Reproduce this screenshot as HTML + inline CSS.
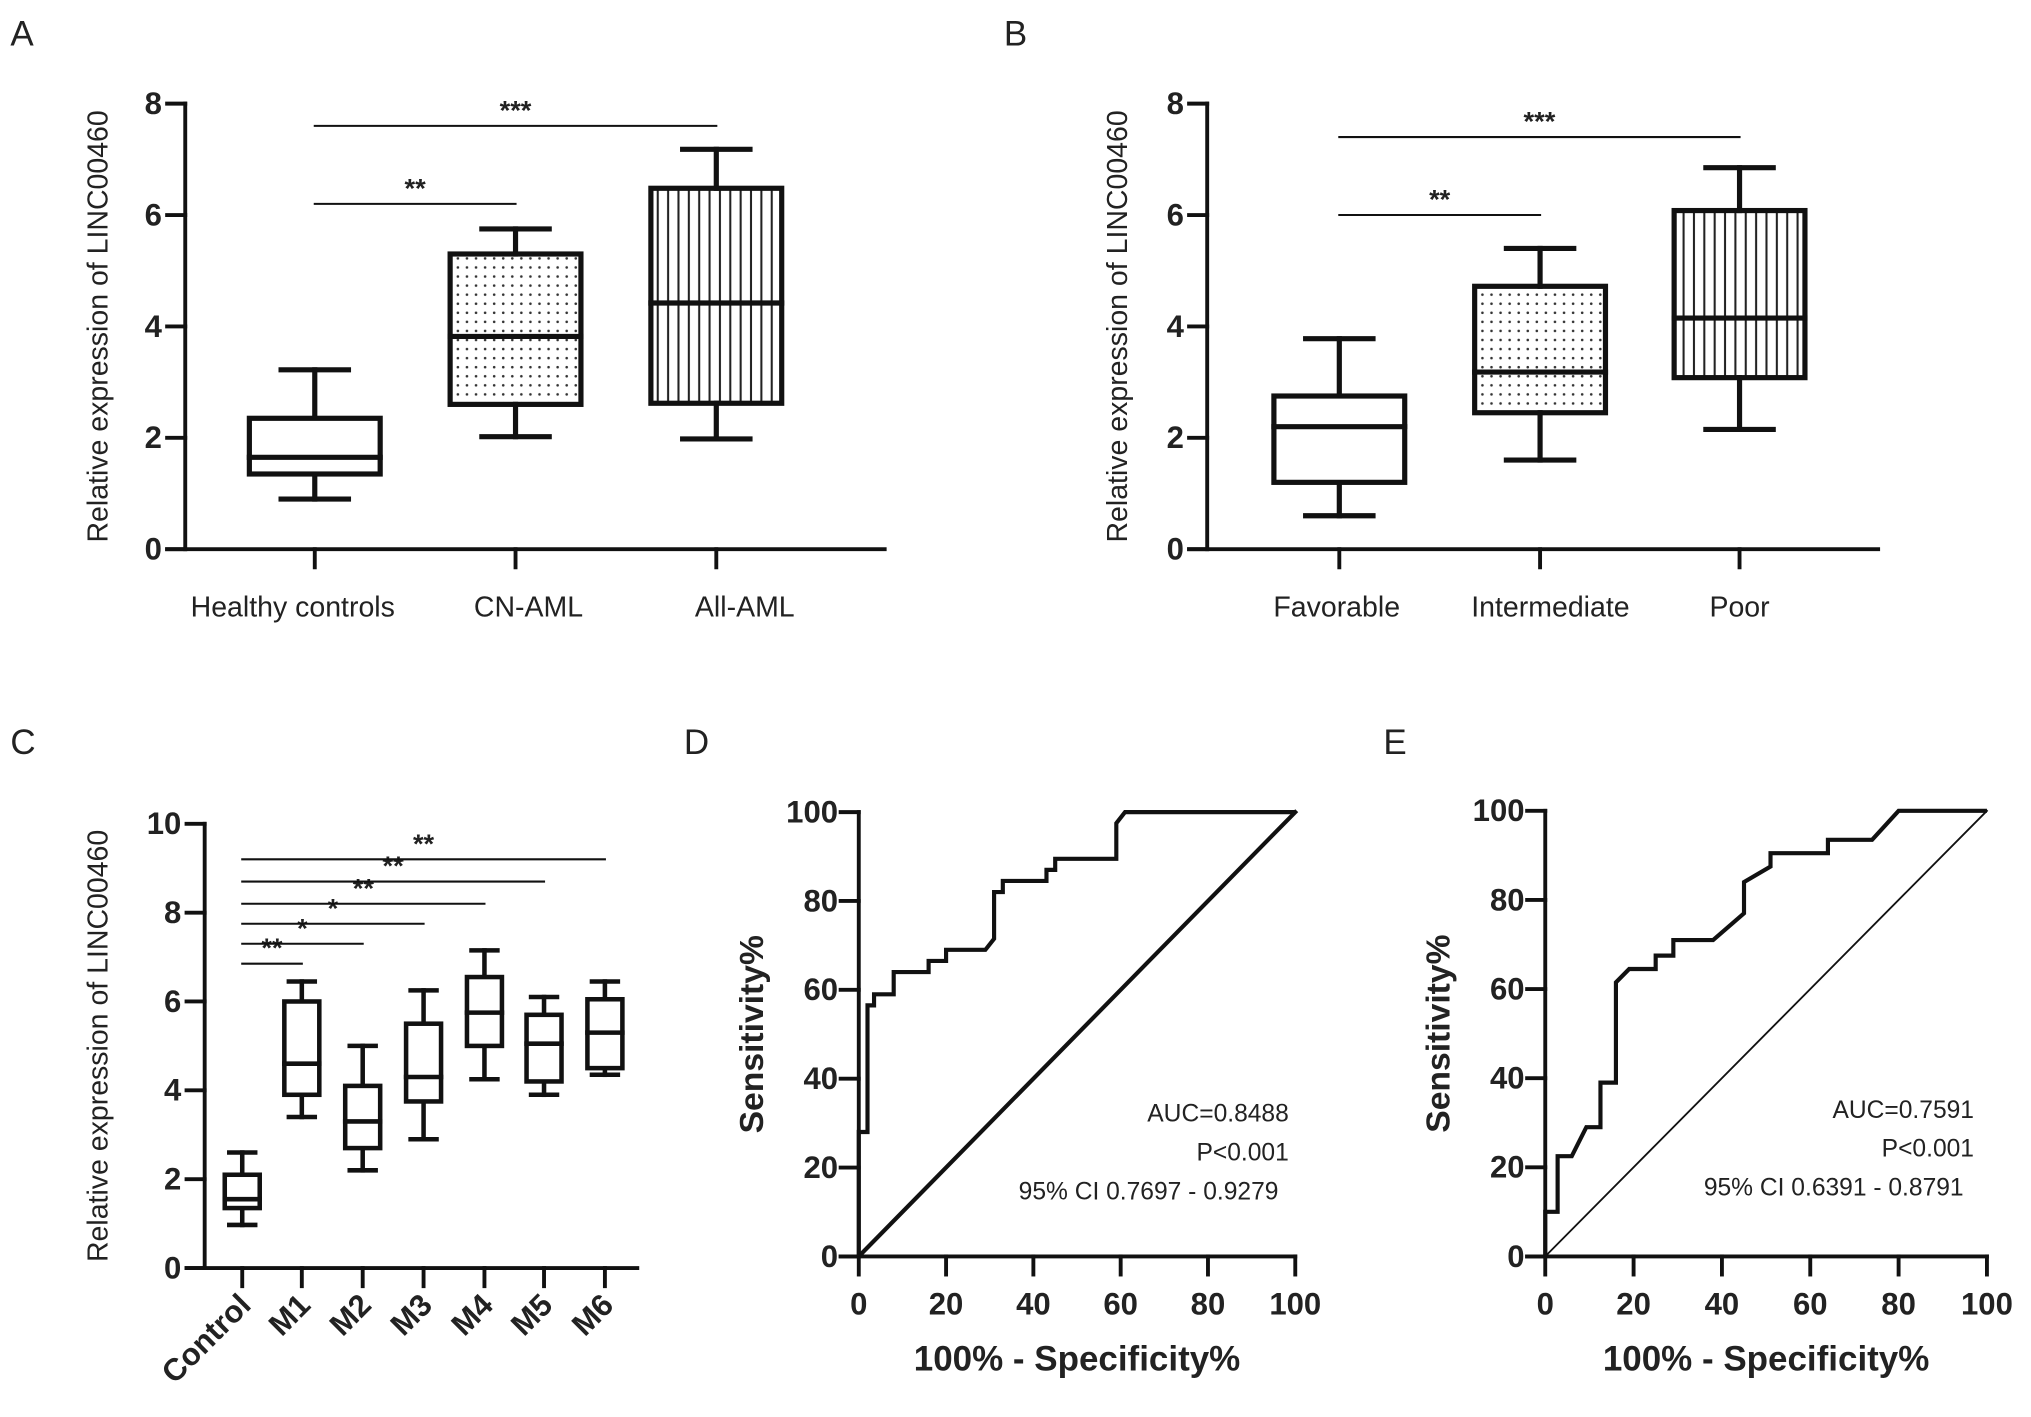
<!DOCTYPE html>
<html><head><meta charset="utf-8"><style>
html,body{margin:0;padding:0;background:#fff}
svg{display:block}
text{font-family:"Liberation Sans",Arial,sans-serif;fill:#222}
.tk{font-weight:bold;font-size:24px}
.lab{font-size:22px}
.pl{font-size:27px}
</style></head><body>
<svg id="fig" width="2031" height="1417" viewBox="0 0 1568 1094" xmlns="http://www.w3.org/2000/svg">
<defs>
<pattern id="dots" width="7" height="7" patternUnits="userSpaceOnUse"><circle cx="3.5" cy="3.5" r="1" fill="#333"/></pattern>
<pattern id="vlines" width="8" height="10" patternUnits="userSpaceOnUse"><rect x="3" y="0" width="1.6" height="10" fill="#222"/></pattern>
</defs>
<text class="pl" x="8" y="35">A</text>
<text class="pl" x="775" y="35">B</text>
<text class="pl" x="8" y="582">C</text>
<text class="pl" x="528" y="582">D</text>
<text class="pl" x="1068" y="582">E</text>
<g id="gA"></g><g id="gB"></g><g id="gC"></g><g id="gD"></g><g id="gE"></g>
</svg>
<script>
// Panel A
const catsA = ["Healthy controls","CN-AML","All-AML"];
const minA = [0.9, 2.02, 1.98];
const q1A = [1.35, 2.6, 2.62];
const medA = [1.65, 3.82, 4.42];
const q3A = [2.35, 5.3, 6.48];
const maxA = [3.22, 5.75, 7.18];
const ticksA = [0,2,4,6,8];
const sigA = [["**",0,1,6.2],["***",0,2,7.6]];
// Panel B
const catsB = ["Favorable","Intermediate","Poor"];
const minB = [0.6, 1.6, 2.15];
const q1B = [1.2, 2.45, 3.08];
const medB = [2.2, 3.18, 4.15];
const q3B = [2.75, 4.72, 6.08];
const maxB = [3.78, 5.4, 6.85];
const sigB = [["**",0,1,6.0],["***",0,2,7.4]];
// Panel C
const catsC = ["Control","M1","M2","M3","M4","M5","M6"];
const minC = [0.97, 3.4, 2.2, 2.9, 4.25, 3.9, 4.35];
const q1C = [1.35, 3.9, 2.7, 3.75, 5.0, 4.2, 4.5];
const medC = [1.55, 4.6, 3.3, 4.3, 5.75, 5.05, 5.3];
const q3C = [2.1, 6.0, 4.1, 5.5, 6.55, 5.7, 6.05];
const maxC = [2.6, 6.45, 5.0, 6.25, 7.15, 6.1, 6.45];
const ticksC = [0,2,4,6,8,10];
const sigC = [["**",0,1,6.85],["*",0,2,7.3],["*",0,3,7.75],["**",0,4,8.2],["**",0,5,8.7],["**",0,6,9.2]];
// Panel D ROC
const rocDx = [0,0,2,2,3.5,3.5,8,8,16,16,20,20,29,31,31,33,33,43,43,45,45,59,59,61,100];
const rocDy = [0,28,28,56.5,56.5,59,59,64,64,66.5,66.5,69,69,71.5,82,82,84.5,84.5,87,87,89.5,89.5,97.5,100,100];
const statsD = ["AUC=0.8488","P<0.001","95% CI 0.7697 - 0.9279"];
// Panel E ROC
const rocEx = [0,0,2.8,2.8,6,9.3,12.5,12.5,16,16,19,25,25,29,29,38,45,45,51,51,64,64,74,80,100];
const rocEy = [0,10,10,22.5,22.5,29,29,39,39,61.5,64.5,64.5,67.5,67.5,71,71,77,84,87.5,90.5,90.5,93.5,93.5,100,100];
const statsE = ["AUC=0.7591","P<0.001","95% CI 0.6391 - 0.8791"];
const rocTicks = [0,20,40,60,80,100];

const NS="http://www.w3.org/2000/svg";
function mk(p,tag,at,txt){const e=document.createElementNS(NS,tag);for(const k in at)e.setAttribute(k,at[k]);if(txt!==undefined)e.textContent=txt;p.appendChild(e);return e;}
function ln(p,x1,y1,x2,y2,w){return mk(p,"line",{x1,y1,x2,y2,stroke:"#111","stroke-width":w,"stroke-linecap":"square"});}

function boxPanel(g,o){
  const ys=v=>o.y0-(v/o.ymax)*(o.y0-o.ytop);
  const xs=i=>o.cx[i];
  const ax=ln(g,o.ax,o.ytop,o.ax,o.y0,o.aw);
  
  
  const xa=ln(g,o.ax-o.tl,o.y0,o.xend,o.y0,o.aw);
  
  
  o.ticks.forEach(t=>{
    ln(g,o.ax-o.tl,ys(t),o.ax,ys(t),o.aw);
    const tx=mk(g,"text",{x:o.ax-o.tl-4,y:ys(t)+8,"text-anchor":"end",class:"tk"},t);
    
    
  });
  o.cats.forEach((c,i)=>{
    ln(g,xs(i),o.y0,xs(i),o.y0+o.tl,o.aw);
    let tx;
    if(o.rot){tx=mk(g,"text",{x:xs(i)+8,y:o.y0+30,"text-anchor":"end",class:"tk",transform:`rotate(-45 ${xs(i)+8} ${o.y0+30})`},c);}
    else tx=mk(g,"text",{x:xs(i)+(o.lx?o.lx[i]:0),y:o.y0+52,"text-anchor":"middle",class:"lab"},c);
    
    
    const bg=mk(g,"g",{});
    
    
    const hw=o.bw/2, cw=o.capw/2;
    ln(bg,xs(i),ys(o.mn[i]),xs(i),ys(o.q1[i]),o.lw);
    ln(bg,xs(i),ys(o.q3[i]),xs(i),ys(o.mx[i]),o.lw);
    ln(bg,xs(i)-cw,ys(o.mn[i]),xs(i)+cw,ys(o.mn[i]),o.lw);
    ln(bg,xs(i)-cw,ys(o.mx[i]),xs(i)+cw,ys(o.mx[i]),o.lw);
    const fill=o.fills?o.fills[i]:"none";
    mk(bg,"rect",{x:xs(i)-hw,y:ys(o.q3[i]),width:o.bw,height:ys(o.q1[i])-ys(o.q3[i]),fill:fill==="none"?"#fff":fill,stroke:"#111","stroke-width":o.lw});
    ln(bg,xs(i)-hw,ys(o.med[i]),xs(i)+hw,ys(o.med[i]),o.lw);
  });
  o.sig.forEach(s=>{
    const y=ys(s[3]);
    const l=ln(g,xs(s[1]),y,xs(s[2]),y,1.6);
    
    
    const t=mk(g,"text",{x:(xs(s[1])+xs(s[2]))/2,y:y-5,"text-anchor":"middle",style:"font-size:21px;font-weight:bold"},s[0]);
    
    
  });
  const yt=mk(g,"text",{x:o.ytx,y:(o.y0+o.ytop)/2,"text-anchor":"middle",class:"lab",transform:`rotate(-90 ${o.ytx} ${(o.y0+o.ytop)/2})`},"Relative expression of LINC00460");
  
  
}
boxPanel(document.getElementById("gA"),{ax:143,y0:424,ytop:80,ymax:8,xend:683,tl:14,aw:3,cx:[243,398,553],lx:[-17,10,22],cats:catsA,mn:minA,q1:q1A,med:medA,q3:q3A,mx:maxA,ticks:ticksA,sig:sigA,bw:101,capw:52,lw:4,fills:["none","url(#dots)","url(#vlines)"],ytx:83});
boxPanel(document.getElementById("gB"),{ax:932,y0:424,ytop:80,ymax:8,xend:1450,tl:14,aw:3,cx:[1034,1189,1343],lx:[-2,8,0],cats:catsB,mn:minB,q1:q1B,med:medB,q3:q3B,mx:maxB,ticks:ticksA,sig:sigB,bw:101,capw:52,lw:4,fills:["none","url(#dots)","url(#vlines)"],ytx:870});
boxPanel(document.getElementById("gC"),{ax:158,y0:979,ytop:636,ymax:10,xend:492,tl:14,aw:3,cx:[187,233,280,327,374,420,467],cats:catsC,mn:minC,q1:q1C,med:medC,q3:q3C,mx:maxC,ticks:ticksC,sig:sigC,bw:27,capw:20,lw:3.5,ytx:83,rot:true});

function rocPanel(g,o){
  const xs=v=>o.ax+v/100*(o.xr-o.ax), ys=v=>o.y0-v/100*(o.y0-o.ytop);
  const ya=ln(g,o.ax,o.ytop,o.ax,o.y0,3);
  
  
  const xa=ln(g,o.ax-14,o.y0,o.xr,o.y0,3);
  
  
  rocTicks.forEach(t=>{
    ln(g,o.ax-14,ys(t),o.ax,ys(t),3);
    const a=mk(g,"text",{x:o.ax-16,y:ys(t)+8,"text-anchor":"end",class:"tk"},t);
    
    
    ln(g,xs(t),o.y0,xs(t),o.y0+14,3);
    const b=mk(g,"text",{x:xs(t),y:o.y0+45,"text-anchor":"middle",class:"tk"},t);
    
    
  });
  const d=ln(g,xs(0),ys(0),xs(100),ys(100),o.dw);
  
  
  const pts=o.rx.map((x,i)=>xs(x)+","+ys(o.ry[i])).join(" ");
  const c=mk(g,"polyline",{points:pts,fill:"none",stroke:"#111","stroke-width":3.2,"stroke-linejoin":"miter"});
  
  
  o.stats.forEach((s,i)=>{
    const t=mk(g,"text",{x:i<2?o.tx:o.tx-8,y:o.ty+i*30,"text-anchor":"end",style:"font-size:19px"},s);
    
    
  });
  const yt=mk(g,"text",{x:o.ax-74,y:(o.y0+o.ytop)/2,"text-anchor":"middle",style:"font-size:26px;font-weight:bold",transform:`rotate(-90 ${o.ax-74} ${(o.y0+o.ytop)/2})`},"Sensitivity%");
  
  
  const xt=mk(g,"text",{x:(o.ax+o.xr)/2,y:o.y0+88,"text-anchor":"middle",style:"font-size:27px;font-weight:bold"},"100% - Specificity%");
  
  
}
rocPanel(document.getElementById("gD"),{ax:663,y0:970,ytop:627,xr:1000,rx:rocDx,ry:rocDy,stats:statsD,tx:995,ty:866,dw:3.2});
rocPanel(document.getElementById("gE"),{ax:1193,y0:970,ytop:626,xr:1534,rx:rocEx,ry:rocEy,stats:statsE,tx:1524,ty:863,dw:1.4});
</script>
</body></html>
